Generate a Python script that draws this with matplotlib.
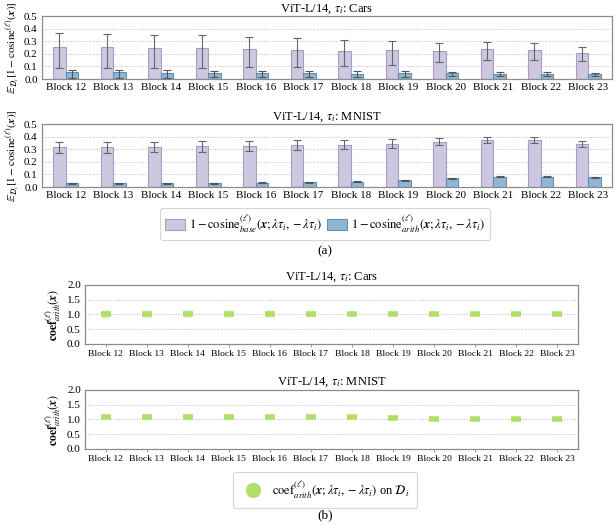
import numpy as np
import matplotlib
matplotlib.use("Agg")
from matplotlib import pyplot as plt
from matplotlib.patches import Patch
from matplotlib.lines import Line2D

plt.rcParams['font.family'] = ['Liberation Serif', 'DejaVu Serif']
plt.rcParams['mathtext.fontset'] = 'stix'

blocks = ['Block %d' % b for b in range(12, 24)]

# top: 1 - cosine, Cars
cars_base = [0.258, 0.253, 0.245, 0.245, 0.239, 0.234, 0.226, 0.231, 0.224, 0.237, 0.231, 0.210]
cars_base_hi = [0.363, 0.357, 0.350, 0.350, 0.336, 0.323, 0.310, 0.305, 0.284, 0.290, 0.284, 0.257]
cars_base_lo = [0.087, 0.088, 0.088, 0.088, 0.095, 0.097, 0.100, 0.110, 0.135, 0.147, 0.152, 0.139]
cars_arith = [0.052, 0.052, 0.050, 0.048, 0.047, 0.045, 0.043, 0.044, 0.045, 0.043, 0.042, 0.037]
cars_arith_hi = [0.073, 0.072, 0.068, 0.066, 0.065, 0.062, 0.062, 0.062, 0.058, 0.055, 0.053, 0.048]
cars_arith_lo = [0.010, 0.012, 0.012, 0.013, 0.013, 0.015, 0.015, 0.018, 0.022, 0.025, 0.027, 0.022]

# top: 1 - cosine, MNIST
mnist_base = [0.316, 0.315, 0.318, 0.322, 0.327, 0.332, 0.334, 0.342, 0.360, 0.373, 0.373, 0.342]
mnist_base_hi = [0.360, 0.360, 0.360, 0.362, 0.368, 0.370, 0.370, 0.378, 0.385, 0.398, 0.398, 0.365]
mnist_base_lo = [0.272, 0.270, 0.275, 0.280, 0.285, 0.293, 0.298, 0.310, 0.335, 0.350, 0.350, 0.320]
mnist_arith = [0.028, 0.028, 0.028, 0.031, 0.034, 0.038, 0.043, 0.052, 0.071, 0.082, 0.083, 0.076]
mnist_arith_hi = [0.032, 0.032, 0.032, 0.035, 0.038, 0.042, 0.047, 0.056, 0.075, 0.086, 0.087, 0.080]
mnist_arith_lo = [0.024, 0.024, 0.024, 0.027, 0.030, 0.034, 0.039, 0.048, 0.067, 0.078, 0.079, 0.072]

# bottom: coef_arith
coef_cars = [1.01, 1.01, 1.01, 1.01, 1.01, 1.01, 1.01, 1.01, 1.01, 1.01, 1.01, 1.01]
coef_cars_lo = [0.86, 0.86, 0.87, 0.87, 0.88, 0.92, 0.93, 0.95, 0.97, 0.98, 0.98, 0.99]
coef_cars_hi = [1.16, 1.16, 1.15, 1.15, 1.14, 1.10, 1.09, 1.07, 1.05, 1.04, 1.04, 1.03]
coef_mnist = [1.08, 1.08, 1.08, 1.08, 1.07, 1.07, 1.07, 1.05, 1.03, 1.02, 1.02, 1.01]

base_face = '#cdc7df'
base_edge = '#a59dc3'
arith_face = '#8fb6d2'
arith_edge = '#5f8fb5'
green = '#b0df6a'
spine_c = '#8c8c8c'

fig = plt.figure(figsize=(6.16, 5.25), dpi=100)

x = np.arange(len(blocks))
w = 0.265
bx = r'\mathbfit{x}'


def top_panel(rect, title, b, bhi, blo, a, ahi, alo):
    ax = fig.add_axes(rect)
    b, bhi, blo = np.array(b), np.array(bhi), np.array(blo)
    a, ahi, alo = np.array(a), np.array(ahi), np.array(alo)
    ax.bar(x - w / 2, b, w, color=base_face, edgecolor=base_edge, linewidth=0.8, zorder=2)
    ax.bar(x + w / 2, a, w, color=arith_face, edgecolor=arith_edge, linewidth=0.8, zorder=2)
    ax.errorbar(x - w / 2, b, yerr=[b - blo, bhi - b], fmt='none', ecolor='#666666',
                elinewidth=0.8, capsize=3, capthick=0.8, zorder=3)
    ax.errorbar(x + w / 2, a, yerr=[a - alo, ahi - a], fmt='none', ecolor='#555555',
                elinewidth=0.8, capsize=3, capthick=0.8, zorder=3)
    ax.set_xlim(-0.5, 11.5)
    ax.set_ylim(0, 0.5)
    ax.set_yticks([0, 0.1, 0.2, 0.3, 0.4, 0.5])
    ax.set_yticklabels(['0.0', '0.1', '0.2', '0.3', '0.4', '0.5'])
    ax.set_xticks(x)
    ax.set_xticklabels(blocks)
    ax.tick_params(length=0, labelsize=7.9, pad=3)
    ax.grid(axis='y', linestyle=':', color='#bbbbbb', linewidth=0.7, zorder=0)
    for s in ax.spines.values():
        s.set_color(spine_c)
        s.set_linewidth(0.9)
    ax.set_title(title, fontsize=9, pad=2)
    ax.set_ylabel(r'$\mathbb{E}_{\mathcal{D}_i}[1-\mathrm{cosine}^{(\ell)}(' + bx + ')]$',
                  fontsize=8, labelpad=2)
    return ax


def bottom_panel(rect, title, vals, lo=None, hi=None):
    ax = fig.add_axes(rect)
    if lo is not None:
        for xi, l, h in zip(x, lo, hi):
            ax.plot([xi, xi], [l, h], color=green, alpha=0.25, linewidth=6,
                    solid_capstyle='butt', zorder=2)
    ax.plot(x, vals, linestyle='none', marker='_', markersize=7, markeredgewidth=4,
            color=green, zorder=3)
    ax.set_xlim(-0.5, 11.5)
    ax.set_ylim(0, 2)
    ax.set_yticks([0, 0.5, 1.0, 1.5, 2.0])
    ax.set_yticklabels(['0.0', '0.5', '1.0', '1.5', '2.0'])
    ax.set_xticks(x)
    ax.set_xticklabels(blocks)
    ax.tick_params(axis='x', length=2, width=0.6, color=spine_c, labelsize=6.8, pad=2)
    ax.tick_params(axis='y', length=0, labelsize=8, pad=3)
    ax.grid(axis='y', linestyle=':', color='#bbbbbb', linewidth=0.7, zorder=0)
    for s in ax.spines.values():
        s.set_color(spine_c)
        s.set_linewidth(0.9)
    ax.set_title(title, fontsize=9, pad=4)
    ax.set_ylabel(r'$\mathbf{coef}^{(\ell)}_{arith}(' + bx + ')$', fontsize=8.5, labelpad=3)
    return ax


top_panel([0.068, 0.8495, 0.9255, 0.12], r'ViT-L/14, $\tau_i$: Cars',
          cars_base, cars_base_hi, cars_base_lo, cars_arith, cars_arith_hi, cars_arith_lo)
top_panel([0.068, 0.6438, 0.9255, 0.12], r'ViT-L/14, $\tau_i$: MNIST',
          mnist_base, mnist_base_hi, mnist_base_lo, mnist_arith, mnist_arith_hi, mnist_arith_lo)

handles_a = [Patch(facecolor=base_face, edgecolor=base_edge, linewidth=0.8),
             Patch(facecolor=arith_face, edgecolor=arith_edge, linewidth=0.8)]
labels_a = [r'$1-\mathrm{cosine}^{(\ell)}_{base}(' + bx + r';\lambda\tau_i,-\lambda\tau_i)$',
            r'$1-\mathrm{cosine}^{(\ell)}_{arith}(' + bx + r';\lambda\tau_i,-\lambda\tau_i)$']
leg = fig.legend(handles_a, labels_a, loc='center', bbox_to_anchor=(0.528, 0.573), ncol=2,
                 fontsize=9, frameon=True, fancybox=True, handlelength=1.6, handleheight=1.0,
                 columnspacing=0.4, handletextpad=0.3, borderpad=0.4)
leg.get_frame().set_edgecolor('#cccccc')
leg.get_frame().set_linewidth(0.8)
fig.text(0.528, 0.521, '(a)', ha='center', va='center', fontsize=9.5)

bottom_panel([0.138, 0.3448, 0.8, 0.1124], r'ViT-L/14, $\tau_i$: Cars',
             coef_cars, coef_cars_lo, coef_cars_hi)
bottom_panel([0.138, 0.1448, 0.8, 0.1124], r'ViT-L/14, $\tau_i$: MNIST', coef_mnist)

handle_b = [Line2D([], [], linestyle='none', marker='o', markersize=10, color=green)]
label_b = [r'$\mathrm{coef}^{(\ell)}_{arith}(' + bx + r';\lambda\tau_i,-\lambda\tau_i)$ on $\mathcal{D}_i$']
leg2 = fig.legend(handle_b, label_b, loc='center', bbox_to_anchor=(0.528, 0.0667),
                  fontsize=9, frameon=True, fancybox=True, handletextpad=0.5, borderpad=0.6)
leg2.get_frame().set_edgecolor('#cccccc')
leg2.get_frame().set_linewidth(0.8)
fig.text(0.528, 0.019, '(b)', ha='center', va='center', fontsize=9.5)

fig.savefig('out.png', dpi=100)
